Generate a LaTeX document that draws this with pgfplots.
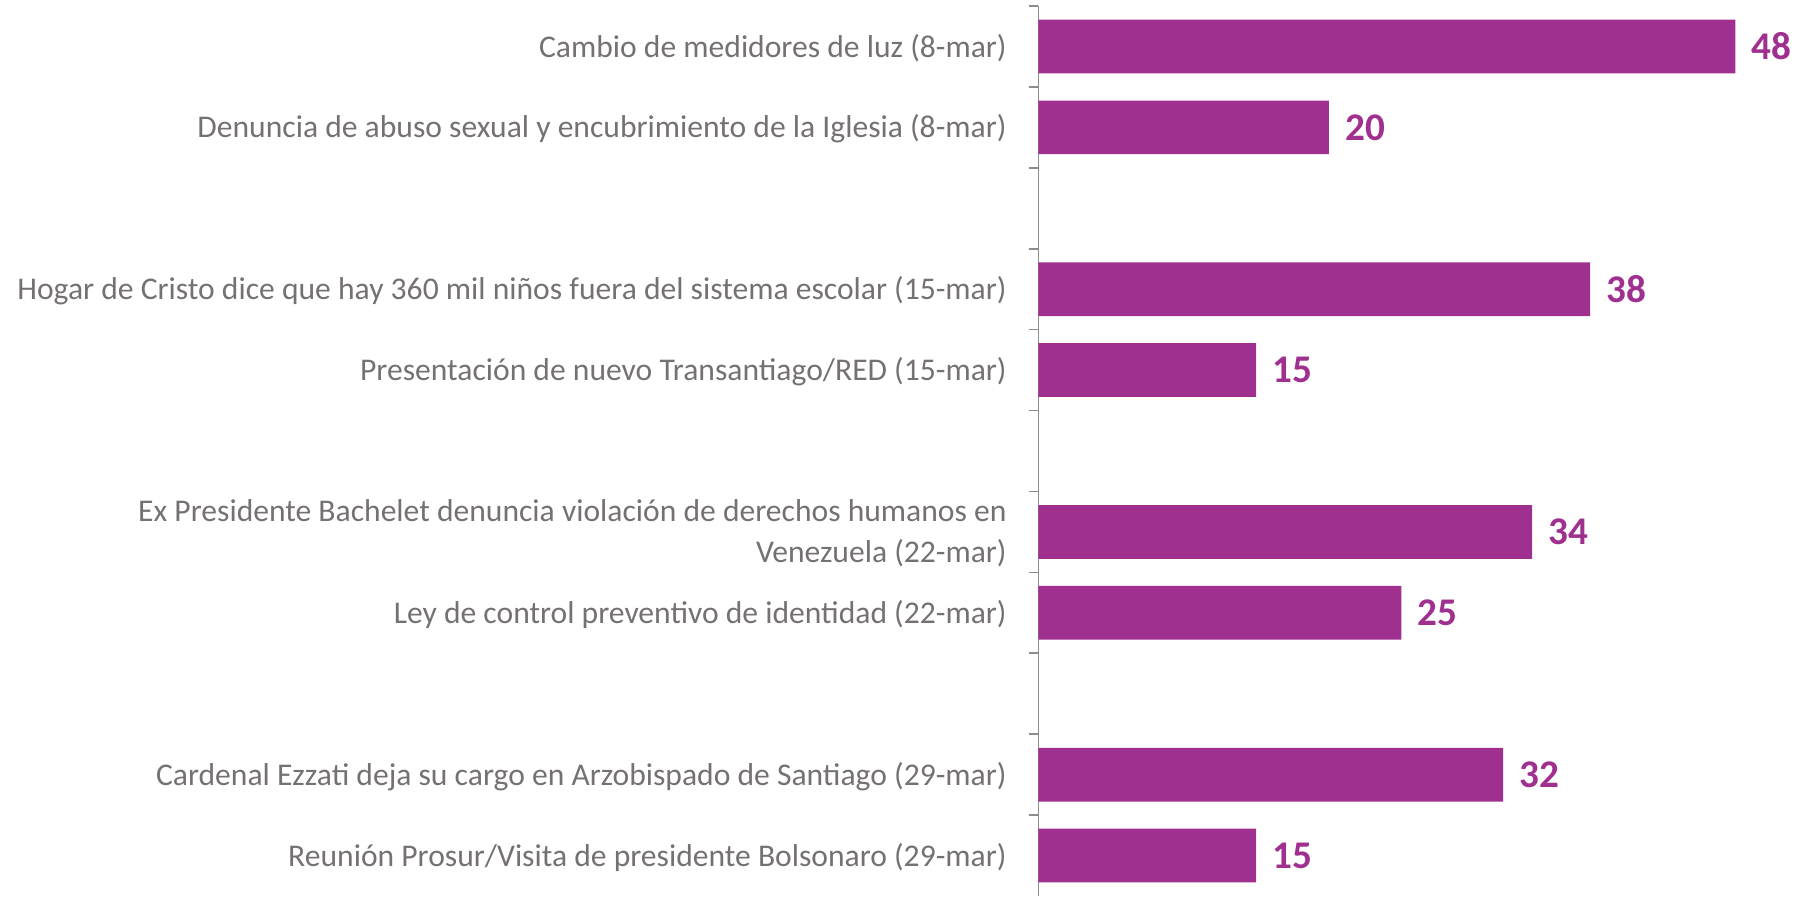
\documentclass[border=0pt]{standalone}
\usepackage{pgfplots}
\pgfplotsset{compat=1.18}
\usepackage{fontspec}
\setmainfont{Carlito}
\definecolor{barc}{HTML}{A0308F}
\definecolor{txt}{HTML}{767171}
\definecolor{axc}{HTML}{8C8C8C}
\begin{document}
\begin{tikzpicture}
\useasboundingbox (0,0) rectangle (897.5pt,448pt);
\begin{axis}[
  at={(519.2pt,0pt)}, anchor=south west,
  scale only axis, width=378.3pt, height=445pt,
  xmin=0, xmax=52.1, ymin=-0.5, ymax=10.5, y dir=reverse,
  xbar, bar width=0.664,
  axis x line=none, axis y line*=left,
  axis line style={axc, line width=0.8pt},
  ytick={-0.5,0.5,1.5,2.5,3.5,4.5,5.5,6.5,7.5,8.5,9.5},
  yticklabels={},
  tick align=outside, major tick length=4.5pt,
  y tick style={axc, line width=0.8pt},
  extra y ticks={0,1,3,4,6,7,9,10},
  extra y tick labels={
    Cambio de medidores de luz (8-mar),
    Denuncia de abuso sexual y encubrimiento de la Iglesia (8-mar),
    Hogar de Cristo dice que hay 360 mil niños fuera del sistema escolar (15-mar),
    Presentación de nuevo Transantiago/RED (15-mar),
    {Ex Presidente Bachelet denuncia violación de derechos humanos en\\Venezuela (22-mar)},
    Ley de control preventivo de identidad (22-mar),
    Cardenal Ezzati deja su cargo en Arzobispado de Santiago (29-mar),
    Reunión Prosur/Visita de presidente Bolsonaro (29-mar)},
  extra y tick style={major tick length=0pt, y tick style={draw=none},
    yticklabel style={anchor=east, align=right, inner sep=0pt, xshift=-15.7pt, yshift=-0.8pt,
      text=txt, font=\fontsize{15.8}{20.6}\selectfont}},
  /pgf/number format/assume math mode=true,
  nodes near coords,
  nodes near coords style={font=\bfseries\fontsize{19.6}{24}\selectfont, text=barc,
    anchor=west, inner sep=0pt, xshift=8pt},
]
\addplot[fill=barc, draw=none] coordinates {(48,0) (20,1) (38,3) (15,4) (34,6) (25,7) (32,9) (15,10)};
\end{axis}
\end{tikzpicture}
\end{document}
